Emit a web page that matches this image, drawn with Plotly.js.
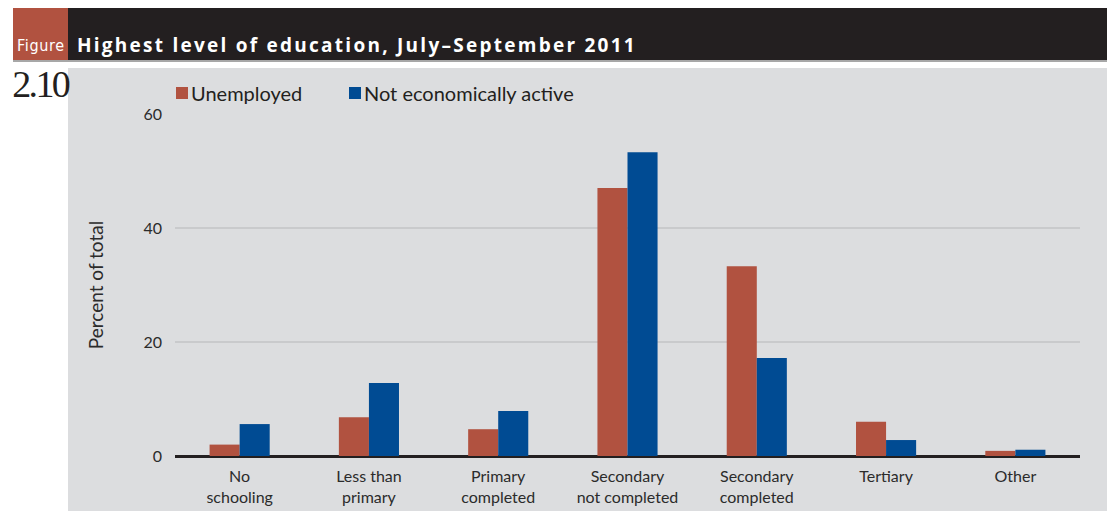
<!DOCTYPE html>
<html>
<head>
<meta charset="utf-8">
<script src="https://cdn.plot.ly/plotly-3.0.1.min.js"></script>
<style>
html,body{margin:0;padding:0;background:#fff;}
#chart{width:1107px;height:511px;}
</style>
</head>
<body>
<div id="chart"></div>
<script>
// ---- data ----
const categories = ["No<br>schooling", "Less than<br>primary", "Primary<br>completed", "Secondary<br>not completed", "Secondary<br>completed", "Tertiary", "Other"];
const unemployed = [2.0, 6.8, 4.7, 47.0, 33.3, 6.0, 0.9];
const notActive = [5.6, 12.8, 7.9, 53.3, 17.2, 2.8, 1.1];
const yTicks = [0, 20, 40, 60];
const seriesNames = ["Unemployed", "Not economically active"];
const titleText = "Highest level of education, July\u2013September 2011";
const figureLabel = "Figure";
const figureNumber = "2.10";

// ---- layout helpers (pixel -> paper) ----
const W = 1107, H = 511;
const M = {l: 175, r: 27, t: 114, b: 55};
const PW = W - M.l - M.r, PH = H - M.t - M.b;
const px = x => (x - M.l) / PW;
const py = y => (H - M.b - y) / PH;

const font = "Lato, 'Open Sans', sans-serif";
const red = "#b15240", blue = "#004b93";

const traces = [
  {type: "bar", name: seriesNames[0], x: categories, y: unemployed, marker: {color: red}, hoverinfo: "y"},
  {type: "bar", name: seriesNames[1], x: categories, y: notActive, marker: {color: blue}, hoverinfo: "y"}
];

const shapes = [
  {type: "rect", xref: "paper", yref: "paper", layer: "below", x0: px(68), x1: px(1107), y0: py(511), y1: py(68), fillcolor: "#dcdddf", line: {width: 0}},
  {type: "rect", xref: "paper", yref: "paper", layer: "below", x0: px(13), x1: px(1107), y0: py(60), y1: py(8), fillcolor: "#231f20", line: {width: 0}},
  {type: "rect", xref: "paper", yref: "paper", layer: "below", x0: px(13), x1: px(68), y0: py(60), y1: py(8), fillcolor: red, line: {width: 0}},
  {type: "rect", xref: "paper", yref: "paper", layer: "below", x0: px(13), x1: px(1107), y0: py(62), y1: py(60), fillcolor: "#a7a7a7", line: {width: 0}}
];

const annotations = [
  {xref: "paper", yref: "paper", x: px(41), y: py(45), xanchor: "center", yanchor: "middle", showarrow: false,
   text: figureLabel, font: {family: "'Liberation Sans Narrow', 'DejaVu Sans Condensed', sans-serif", size: 16, color: "#ffffff"}},
  {xref: "paper", yref: "paper", x: px(357), y: py(45), xanchor: "center", yanchor: "middle", showarrow: false,
   text: "<b>" + titleText + "</b>", font: {family: "'Open Sans', sans-serif", size: 19, color: "#ffffff"}},
  {xref: "paper", yref: "paper", x: px(40), y: py(84), xanchor: "center", yanchor: "middle", showarrow: false,
   text: figureNumber, font: {family: "'Liberation Serif', 'DejaVu Serif', serif", size: 38, color: "#231f20"}}
];

const layout = {
  width: W, height: H,
  margin: M,
  paper_bgcolor: "#ffffff",
  plot_bgcolor: "rgba(0,0,0,0)",
  font: {family: font, color: "#2b2b2b"},
  barmode: "group",
  bargap: 0.535,
  bargroupgap: 0,
  showlegend: true,
  legend: {orientation: "h", x: px(162), y: py(93), xanchor: "left", yanchor: "middle",
           font: {family: font, size: 20, color: "#231f20"}, bgcolor: "rgba(0,0,0,0)",
           itemwidth: 30, traceorder: "normal"},
  xaxis: {
    range: [-0.5, 6.5], showgrid: false, zeroline: false,
    showline: false, ticks: "", ticklabelstandoff: 9,
    tickfont: {family: font, size: 16, color: "#2b2b2b"},
    fixedrange: true
  },
  yaxis: {
    range: [0, 60], tickvals: yTicks, ticktext: yTicks.map(String),
    showgrid: true, gridcolor: "#c9cacc", gridwidth: 2, zeroline: true, zerolinecolor: "#231f20", zerolinewidth: 3,
    showline: false, ticks: "", ticklabelstandoff: 12,
    tickfont: {family: font, size: 16, color: "#2b2b2b"},
    title: {text: "Percent of total", font: {family: font, size: 19, color: "#2b2b2b"}, standoff: 34},
    fixedrange: true
  },
  shapes: shapes,
  annotations: annotations
};

// widen/tighten header texts (centered) toward the widths seen in the reference
function fitText(idx, targetWidth, minLs) {
  const el = document.querySelectorAll("#chart .annotation-text")[idx];
  if (!el) return;
  const n = el.textContent.length;
  const w = el.getComputedTextLength ? el.getComputedTextLength() : el.getBBox().width;
  let ls = (targetWidth - w) / Math.max(1, n);
  if (minLs !== undefined) ls = Math.max(minLs, ls);
  el.style.letterSpacing = ls.toFixed(2) + "px";
}

// nudge legend entries to match the reference spacing
function tuneLegend() {
  const items = document.querySelectorAll("#chart .legend .traces");
  const targets = [176, 349];
  items.forEach((g, i) => {
    const t = g.querySelector(".legendtext");
    if (t) t.setAttribute("x", (parseFloat(t.getAttribute("x")) - 11).toString());
    const sym = g.querySelector(".legendpoints path");
    if (!sym) return;
    const r = sym.getBoundingClientRect();
    const dx = targets[i] - r.left;
    const m = /translate\(([-\d.]+)[ ,]+([-\d.]+)\)/.exec(g.getAttribute("transform") || "");
    if (m) g.setAttribute("transform", `translate(${parseFloat(m[1]) + dx},${m[2]})`);
  });
}

Plotly.newPlot("chart", traces, layout, {displayModeBar: false, staticPlot: true}).then(() => {
  fitText(0, 48, -0.5);
  fitText(1, 560);
  fitText(2, 56, -3);
  tuneLegend();
});
</script>
</body>
</html>
